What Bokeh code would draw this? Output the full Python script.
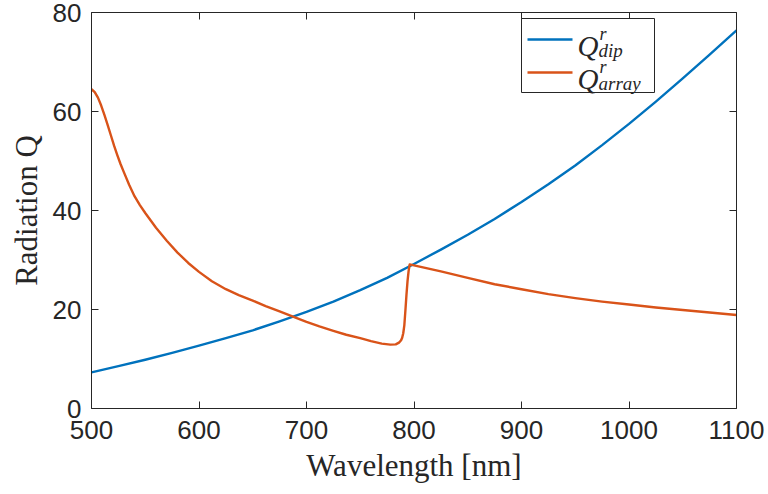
from bokeh.plotting import figure
from bokeh.models import Range1d, LinearAxis, FixedTicker, CustomJSTickFormatter
from bokeh.embed import file_html
from bokeh.resources import INLINE

# ---- data ----
wavelength_dip = [500, 525, 550, 575, 600, 625, 650, 675, 700, 725, 750, 775, 800,
                  825, 850, 875, 900, 925, 950, 975, 1000, 1025, 1050, 1075, 1100]
q_dip = [7.3, 8.55, 9.85, 11.25, 12.7, 14.2, 15.8, 17.6, 19.5, 21.6, 23.9, 26.4, 29.2,
         32.1, 35.1, 38.3, 41.7, 45.3, 49.1, 53.2, 57.5, 62.0, 66.7, 71.5, 76.4]

wavelength_array = [500, 503, 506, 509, 512, 515, 518, 521, 524, 527, 530, 535, 540,
                    545, 550, 560, 570, 580, 590, 600, 612, 625, 637, 650, 662, 675,
                    688, 700, 712, 725, 737, 750, 760, 770, 778, 783, 786, 788, 789,
                    790, 791, 792, 793, 794, 795, 796, 800, 825, 850, 875, 900, 925,
                    950, 975, 1000, 1025, 1050, 1075, 1100]
q_array = [64.5, 63.9, 62.8, 61.2, 59.3, 57.3, 55.2, 53.1, 51.2, 49.4, 47.8, 45.2, 42.9,
           41.1, 39.5, 36.5, 33.9, 31.5, 29.4, 27.6, 25.7, 24.1, 22.9, 21.8, 20.7, 19.6,
           18.5, 17.5, 16.6, 15.7, 14.9, 14.2, 13.6, 13.1, 12.9, 12.95, 13.3, 13.8, 14.3,
           15.2, 16.8, 19.8, 23.0, 25.8, 27.8, 29.1, 28.9, 27.7, 26.4, 25.1, 24.1, 23.1,
           22.3, 21.6, 21.0, 20.4, 19.9, 19.4, 18.9]

x_ticks = [500, 600, 700, 800, 900, 1000, 1100]
y_ticks = [0, 20, 40, 60, 80]
x_title = "Wavelength [nm]"
y_title = "Radiation Q"
legend_main = ["Q", "Q"]
legend_sup = ["r", "r"]
legend_sub = ["dip", "array"]

AX = "#262626"
BLUE = "#0072BD"
ORANGE = "#D95319"
SERIF = "Liberation Serif"

X0, X1, Y0, Y1 = 500, 1100, 0, 80
LEFT, RIGHT, TOP, BOTTOM = 91, 736, 12, 408   # frame edges in pixels

def dx(px):
    return X0 + (px - LEFT) * (X1 - X0) / (RIGHT - LEFT)

def dy(py):
    return Y0 + (BOTTOM - py) * (Y1 - Y0) / (BOTTOM - TOP)

p = figure(width=768, height=494, x_range=Range1d(X0, X1), y_range=Range1d(Y0, Y1),
           output_backend="svg", toolbar_location=None,
           min_border_left=LEFT, min_border_right=768 - RIGHT,
           min_border_top=TOP, min_border_bottom=494 - BOTTOM)
p.outline_line_color = None
p.xgrid.grid_line_color = None
p.ygrid.grid_line_color = None
p.background_fill_color = "white"
p.border_fill_color = "white"

p.add_layout(LinearAxis(), "right")
p.add_layout(LinearAxis(), "above")

def style(ax, ticks, show):
    ax.ticker = FixedTicker(ticks=ticks)
    ax.axis_line_color = AX
    ax.axis_line_width = 1
    ax.major_tick_line_color = AX
    ax.major_tick_line_width = 1
    ax.major_tick_in = 7
    ax.major_tick_out = 0
    ax.minor_tick_line_color = None
    ax.major_label_text_font = "Liberation Sans"
    ax.major_label_text_color = AX
    if show:
        ax.major_label_text_font_size = "26px"
    else:
        ax.formatter = CustomJSTickFormatter(code="return ''")
        ax.major_label_text_font_size = "1px"
        ax.major_label_standoff = 0

for ax in p.below:
    style(ax, x_ticks, True)
    ax.major_label_standoff = 12
    ax.axis_label = x_title
    ax.axis_label_text_font = SERIF
    ax.axis_label_text_font_style = "normal"
    ax.axis_label_text_font_size = "31px"
    ax.axis_label_text_color = AX
    ax.axis_label_standoff = 6
for ax in p.above:
    style(ax, x_ticks, False)
for ax in p.left:
    style(ax, y_ticks, True)
    ax.major_label_standoff = 10
    ax.axis_label = y_title
    ax.axis_label_text_font = SERIF
    ax.axis_label_text_font_style = "normal"
    ax.axis_label_text_font_size = "31px"
    ax.axis_label_text_color = AX
    ax.axis_label_standoff = 6
for ax in p.right:
    style(ax, y_ticks, False)

# data curves
p.line(wavelength_dip, q_dip, line_color=BLUE, line_width=2.4, line_join="round")
p.line(wavelength_array, q_array, line_color=ORANGE, line_width=2.4, line_join="round")

# ---- legend (drawn by hand so that the entries can carry super/subscripts) ----
box_l, box_r, box_t, box_b = 521, 654, 18, 92      # legend box, pixels
sample_l, sample_r = 527, 572                       # sample line, pixels
entry_y = [39, 72]                                  # entry centre lines, pixels
p.quad(left=dx(box_l), right=dx(box_r), top=dy(box_t), bottom=dy(box_b),
       fill_color="white", line_color=AX, line_width=1, level="overlay")
for yy, col in zip(entry_y, [BLUE, ORANGE]):
    p.line([dx(sample_l), dx(sample_r)], [dy(yy), dy(yy)], line_color=col,
           line_width=2.4, level="overlay")

p.text(x=[dx(577)] * 2, y=[dy(v + 6) for v in entry_y], text=legend_main,
       text_font=SERIF, text_font_style="italic", text_font_size="29px",
       text_color=AX, text_baseline="alphabetic", text_align="left", level="overlay")
p.text(x=[dx(599)] * 2, y=[dy(v - 6) for v in entry_y], text=legend_sup,
       text_font=SERIF, text_font_style="italic", text_font_size="18px",
       text_color=AX, text_baseline="alphabetic", text_align="left", level="overlay")
p.text(x=[dx(598)] * 2, y=[dy(v + 11) for v in entry_y], text=legend_sub,
       text_font=SERIF, text_font_style="italic", text_font_size="19px",
       text_color=AX, text_baseline="alphabetic", text_align="left", level="overlay")

open("out.html", "w").write(file_html(p, INLINE))
